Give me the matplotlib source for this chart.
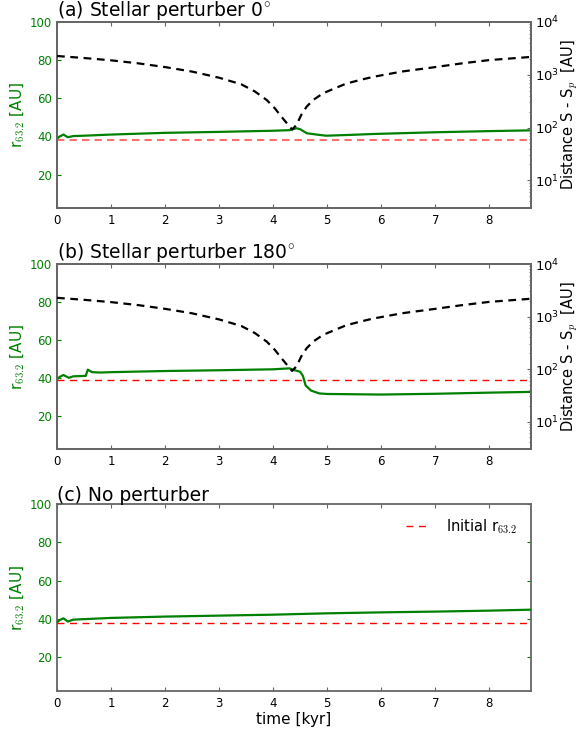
import numpy as np
import matplotlib
matplotlib.use('Agg')
import matplotlib.pyplot as plt

plt.rcParams['mathtext.fontset'] = 'cm'
plt.rcParams['font.family'] = 'DejaVu Sans'

# --- dane ---
# odległość S - S_p (ta sama dla (a) i (b))
t_dist = [0, 0.5, 1, 1.5, 2, 2.5, 3, 3.41, 3.66, 3.88, 4.03, 4.15, 4.28, 4.35,
          4.43, 4.52, 4.62, 4.74, 4.92, 5.14, 5.35, 5.6, 5.85, 6.4, 7.0, 7.5,
          8.0, 8.77]
dist = [2270, 2080, 1880, 1650, 1400, 1150, 880, 660, 485, 333, 232, 162, 112, 92,
        112, 174, 250, 333, 445, 555, 680, 795, 915, 1160, 1400, 1650, 1900, 2180]

# (a) perturber 0 deg
t_a = [0, 0.05, 0.12, 0.2, 0.3, 0.5, 1, 2, 3, 4, 4.3, 4.43, 4.5, 4.62, 4.8,
       4.98, 5.5, 5.85, 7, 8, 8.77]
r_a = [38.8, 40, 41, 39.6, 40.2, 40.4, 41, 41.9, 42.4, 43.0, 43.3, 44.3, 43.8,
       41.7, 41, 40.4, 40.9, 41.3, 42.2, 42.8, 43.2]
r0_a = 38.3

# (b) perturber 180 deg
t_b = [0, 0.05, 0.12, 0.22, 0.3, 0.5, 0.53, 0.57, 0.65, 0.8, 1, 2, 3, 4, 4.3,
       4.4, 4.5, 4.55, 4.6, 4.7, 4.85, 5, 6, 7, 8, 8.77]
r_b = [39.2, 40.5, 41.5, 40, 40.8, 41, 41, 44.3, 43, 42.8, 43, 43.6, 44, 44.5,
       45, 44, 43.2, 41, 36, 33.3, 31.8, 31.5, 31.2, 31.6, 32.2, 32.6]
r0_b = 38.8

# (c) bez perturbera
t_c = [0, 0.05, 0.12, 0.2, 0.3, 1, 2, 3, 4, 5, 6, 7, 8, 8.77]
r_c = [38.3, 39.5, 40.4, 38.7, 39.7, 40.6, 41.3, 41.8, 42.3, 43, 43.5, 43.9,
       44.4, 44.9]
r0_c = 37.9

titles = ['(a) Stellar perturber 0$^{\\circ}$',
          '(b) Stellar perturber 180$^{\\circ}$',
          '(c) No perturber']

x_max = 8.77
spine_col = '#666666'
green = '#008000'

fig = plt.figure(figsize=(5.79, 7.36), dpi=100)
left, width = 57 / 579, 474 / 579
rects = [(left, 1 - 208 / 736, width, 186 / 736),
         (left, 1 - 449 / 736, width, 185 / 736),
         (left, 1 - 691 / 736, width, 187 / 736)]

panels = [(t_a, r_a, r0_a, True), (t_b, r_b, r0_b, True), (t_c, r_c, r0_c, False)]

for i, (rect, (t, r, r0, has_dist)) in enumerate(zip(rects, panels)):
    ax = fig.add_axes(rect)
    ax.plot(t, r, color=green, lw=1.6, zorder=3)
    if i == 0:
        ax.axhline(r0, color='#ff6f6f', lw=1.5, ls=(0, (3.5, 2.5)), zorder=2)
    else:
        ax.axhline(r0, color='red', lw=1.0, ls=(0, (5, 4)), zorder=2,
                   label='Initial r$_{63.2}$')
    ax.set_xlim(0, x_max)
    ax.set_ylim(2.5, 100)
    ax.set_yticks([20, 40, 60, 80, 100])
    ax.set_xticks(range(0, 9))
    ax.tick_params(axis='x', direction='in', top=True, length=3, color=spine_col,
                   labelsize=8.5, pad=4)
    ax.tick_params(axis='y', direction='in', length=3, colors=green,
                   labelsize=8.5, right=not has_dist)
    ax.set_ylabel('r$_{63.2}$ [AU]', color=green, fontsize=11, labelpad=2)
    ax.set_title(titles[i], loc='left', fontsize=13.5, pad=2)
    for s in ax.spines.values():
        s.set_color(spine_col)
        s.set_linewidth(1.3)
    if i == 2:
        ax.set_xlabel('time [kyr]', fontsize=11, labelpad=2)
        ax.legend(loc='upper right', frameon=False, fontsize=10.5,
                  handlelength=1.4, handletextpad=1.4)

    if has_dist:
        ax2 = ax.twinx()
        ax2.plot(t_dist, dist, color='black', lw=1.6, ls=(0, (3.5, 2.5)), zorder=4)
        ax2.set_yscale('log')
        ax2.set_ylim(3, 1e4)
        ax2.set_xlim(0, x_max)
        ax2.tick_params(axis='y', which='both', direction='in', labelsize=9.5,
                        color=spine_col, pad=3)
        ax2.tick_params(axis='y', which='major', length=3)
        ax2.tick_params(axis='y', which='minor', length=1.5)
        ax2.set_ylabel('Distance S - S$_p$  [AU]', fontsize=10.5, labelpad=0)
        for s in ax2.spines.values():
            s.set_color(spine_col)
            s.set_linewidth(1.3)

fig.savefig('out.png', dpi=100)
